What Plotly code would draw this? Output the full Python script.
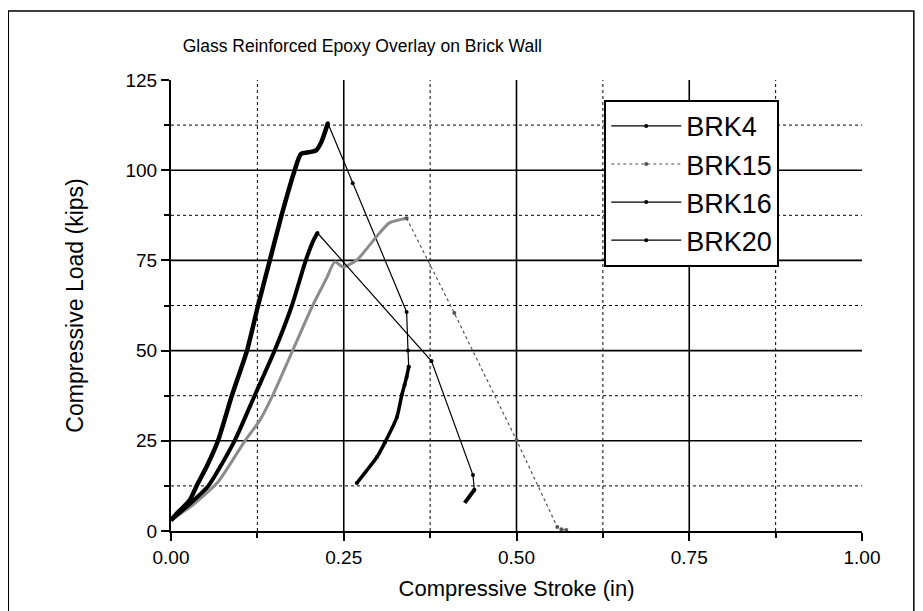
import plotly.graph_objects as go

# BRK4 - thick loading branch, thin post-peak branch, thick unloading tail
brk4_load_x = [0.0, 0.012, 0.027, 0.037, 0.052, 0.068, 0.088, 0.110, 0.126, 0.143, 0.160, 0.179, 0.188, 0.200, 0.210, 0.218, 0.227]
brk4_load_y = [3.0, 5.5, 8.5, 12.5, 18.0, 25.0, 37.5, 50.0, 62.5, 75.0, 87.5, 100.0, 104.5, 105.0, 105.5, 108.0, 113.0]
brk4_post_x = [0.227, 0.263, 0.341, 0.343, 0.344]
brk4_post_y = [113.0, 96.4, 60.7, 50.0, 45.5]
brk4_tail_x = [0.344, 0.341, 0.338, 0.334, 0.327, 0.310, 0.298, 0.269]
brk4_tail_y = [45.5, 42.7, 40.5, 37.7, 31.6, 24.7, 20.5, 13.3]

# BRK15 - grey curve
brk15_load_x = [0.0, 0.015, 0.03, 0.068, 0.107, 0.129, 0.147, 0.176, 0.205, 0.225, 0.237, 0.249, 0.269, 0.297, 0.316, 0.341]
brk15_load_y = [3.0, 5.0, 7.0, 13.6, 25.0, 30.8, 37.5, 50.0, 62.5, 70.0, 74.6, 73.2, 75.1, 81.5, 85.4, 86.7]
brk15_post_x = [0.341, 0.410, 0.500, 0.559, 0.565, 0.572]
brk15_post_y = [86.7, 60.4, 25.2, 1.1, 0.5, 0.3]

# BRK16
brk16_load_x = [0.0, 0.012, 0.027, 0.054, 0.092, 0.121, 0.150, 0.175, 0.195, 0.206, 0.212]
brk16_load_y = [3.0, 5.0, 7.5, 12.5, 25.0, 37.5, 50.0, 62.5, 75.0, 80.5, 82.6]
brk16_post_x = [0.212, 0.377, 0.437, 0.439]
brk16_post_y = [82.6, 47.1, 15.5, 11.4]
brk16_tail_x = [0.439, 0.425]
brk16_tail_y = [11.4, 7.8]

major_x = [0.25, 0.5, 0.75]
minor_x = [0.125, 0.375, 0.625, 0.875]
major_y = [25, 50, 75, 100]
minor_y = [12.5, 37.5, 62.5, 87.5, 112.5]

fnt = "Liberation Sans, Arial, sans-serif"

fig = go.Figure()

def thick(x, y, name, color="black", width=3.5):
    fig.add_trace(go.Scatter(x=x, y=y, mode="lines", legendgroup=name, showlegend=False,
                             line=dict(color=color, width=width, shape="spline", smoothing=0.6),
                             hoverinfo="skip"))

def thin(x, y, name, color="black", dash="solid", show=True):
    fig.add_trace(go.Scatter(x=x, y=y, mode="lines+markers", name=name, legendgroup=name,
                             showlegend=show, line=dict(color=color, width=1.2, dash=dash),
                             marker=dict(color=color, size=4)))

thick(brk4_load_x, brk4_load_y, "BRK4", width=4.5)
thin(brk4_post_x, brk4_post_y, "BRK4")
thick(brk15_load_x, brk15_load_y, "BRK15", color="#8c8c8c", width=3)
thin(brk15_post_x, brk15_post_y, "BRK15", color="#555555", dash="dot")
thick(brk16_load_x, brk16_load_y, "BRK16", width=4)
thin(brk16_post_x, brk16_post_y, "BRK16")
thick(brk16_tail_x, brk16_tail_y, "BRK16", width=4)
# unloading tail of the tall specimen listed as BRK20
thin(brk4_tail_x, brk4_tail_y, "BRK20")
thick(brk4_tail_x, brk4_tail_y, "BRK20", width=3.5)

shapes = []
for v in major_x:
    shapes.append(dict(type="line", xref="x", yref="y", x0=v, x1=v, y0=0, y1=125,
                       line=dict(color="black", width=1.6), layer="below"))
for v in minor_x:
    shapes.append(dict(type="line", xref="x", yref="y", x0=v, x1=v, y0=0, y1=125,
                       line=dict(color="black", width=1, dash="dot"), layer="below"))
for v in major_y:
    shapes.append(dict(type="line", xref="x", yref="y", x0=0, x1=1, y0=v, y1=v,
                       line=dict(color="black", width=1.6), layer="below"))
for v in minor_y:
    shapes.append(dict(type="line", xref="x", yref="y", x0=0, x1=1, y0=v, y1=v,
                       line=dict(color="black", width=1, dash="dot"), layer="below"))
# outer frame
shapes.append(dict(type="rect", xref="paper", yref="paper", x0=-0.2355, x1=1.075, y0=-0.19, y1=1.153,
                   line=dict(color="black", width=1.5)))

fig.update_layout(
    width=923, height=611,
    margin=dict(l=163, r=69, t=72, b=88),
    paper_bgcolor="white", plot_bgcolor="white",
    font=dict(family=fnt, color="black"),
    title=dict(text="Glass Reinforced Epoxy Overlay on Brick Wall", font=dict(size=17.5),
               xref="paper", x=0.017, xanchor="left", y=1 - 38 / 611, yanchor="middle"),
    shapes=shapes,
    legend=dict(x=0.627, y=0.956, xanchor="left", yanchor="top", bgcolor="white",
                bordercolor="black", borderwidth=2, font=dict(size=27), itemwidth=70,
                tracegroupgap=0),
    xaxis=dict(range=[0, 1], tickvals=[0, 0.25, 0.5, 0.75, 1.0],
               ticktext=["0.00", "0.25", "0.50", "0.75", "1.00"],
               showgrid=False, zeroline=False, showline=True, linecolor="black", linewidth=2,
               ticks="outside", ticklen=8, tickwidth=2, tickcolor="black",
               tickfont=dict(size=19),
               minor=dict(tickvals=minor_x, ticks="outside", ticklen=5, tickwidth=1.5, tickcolor="black"),
               title=dict(text="Compressive Stroke (in)", font=dict(size=22), standoff=14)),
    yaxis=dict(range=[0, 125], tickvals=[0, 25, 50, 75, 100, 125],
               showgrid=False, zeroline=False, showline=True, linecolor="black", linewidth=2,
               ticks="outside", ticklen=8, tickwidth=2, tickcolor="black",
               tickfont=dict(size=19),
               minor=dict(tickvals=minor_y, ticks="outside", ticklen=5, tickwidth=1.5, tickcolor="black"),
               title=dict(text="Compressive Load (kips)", font=dict(size=23), standoff=35)),
)

fig.write_html("out.html")
